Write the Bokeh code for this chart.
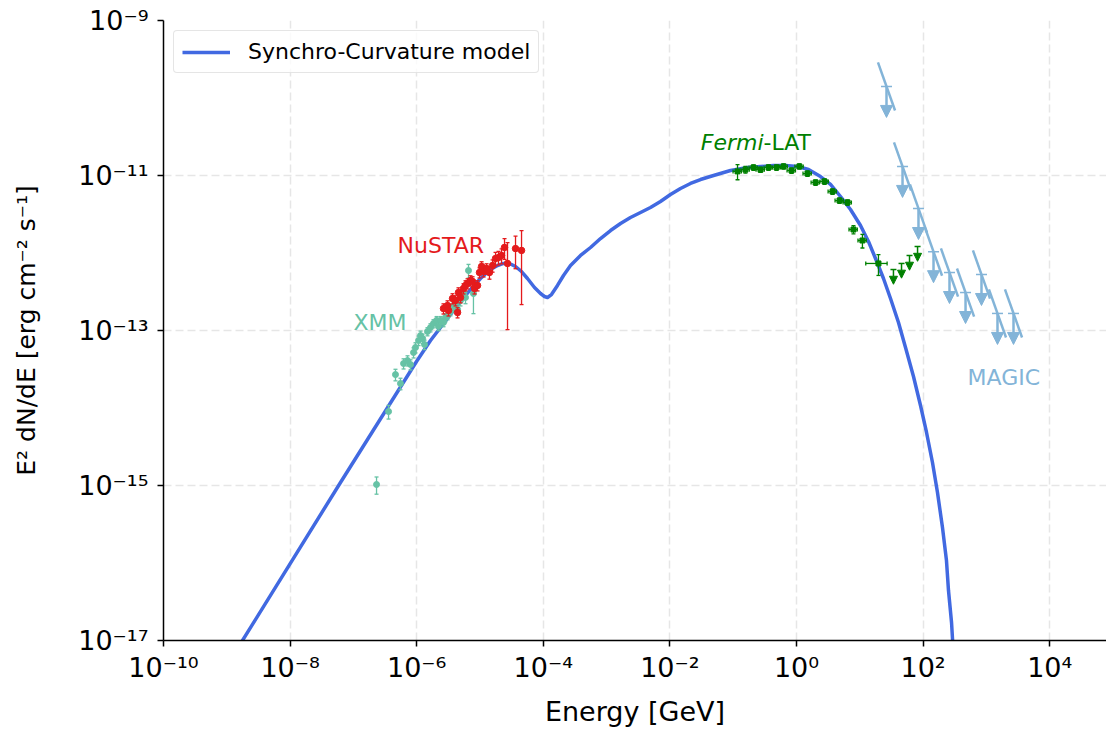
import math
from bokeh.plotting import figure
from bokeh.models import (Range1d, FixedTicker, Label, Arrow, NormalHead, ColumnDataSource)
from bokeh.embed import file_html
from bokeh.resources import INLINE

FONT = "DejaVu Sans"

# ---------------- data ----------------
# Synchro-curvature model, traced (log10 E [GeV], log10 E^2 dN/dE)
model_logE = [-8.942, -8.752, -7.204, -6.003, -5.782, -5.624, -5.466, -5.308, -5.150, -4.992,
              -4.834, -4.723, -4.629, -4.534, -4.439, -4.344, -4.250, -4.139, -4.044, -3.981,
              -3.934, -3.871, -3.776, -3.681, -3.570, -3.412, -3.254, -3.096, -2.938, -2.780,
              -2.623, -2.464, -2.307, -2.149, -1.991, -1.833, -1.675, -1.517, -1.311, -1.043,
              -0.774, -0.569, -0.363, -0.174, 0.016, 0.190, 0.379, 0.537, 0.695, 0.853,
              1.011, 1.137, 1.248, 1.374, 1.485, 1.611, 1.722, 1.848, 1.959, 2.054,
              2.148, 2.227, 2.306, 2.369, 2.401, 2.449, 2.480]
model_logF = [-17.245, -17.000, -14.961, -13.400, -13.129, -12.961, -12.794, -12.626, -12.471, -12.329,
              -12.213, -12.161, -12.135, -12.135, -12.174, -12.239, -12.329, -12.445, -12.523, -12.561,
              -12.574, -12.536, -12.419, -12.290, -12.161, -12.032, -11.929, -11.813, -11.710, -11.619,
              -11.542, -11.477, -11.413, -11.335, -11.245, -11.168, -11.103, -11.052, -11.000, -10.935,
              -10.897, -10.884, -10.871, -10.871, -10.884, -10.923, -11.013, -11.116, -11.271, -11.439,
              -11.645, -11.852, -12.071, -12.329, -12.587, -12.897, -13.219, -13.594, -13.968, -14.316,
              -14.703, -15.090, -15.542, -15.968, -16.355, -16.768, -17.194]

xmm_E = [2.32e-7, 3.59e-7, 4.62e-7, 5.54e-7, 6.20e-7, 7.16e-7, 7.98e-7, 8.91e-7, 9.57e-7, 1.07e-6,
         1.15e-6, 1.24e-6, 1.33e-6, 1.48e-6, 1.65e-6, 1.84e-6, 2.06e-6, 2.21e-6, 2.38e-6, 2.65e-6,
         2.85e-6, 3.07e-6, 3.42e-6, 3.81e-6, 4.10e-6, 4.42e-6, 4.92e-6, 5.48e-6, 5.90e-6, 6.58e-6,
         7.88e-6]
xmm_F = [1.03e-15, 9.0e-15, 2.70e-14, 2.07e-14, 3.75e-14, 4.10e-14, 3.64e-14, 5.20e-14, 6.04e-14,
         7.43e-14, 8.61e-14, 7.88e-14, 6.59e-14, 9.70e-14, 1.09e-13, 1.23e-13, 1.35e-13, 1.13e-13,
         1.35e-13, 1.27e-13, 1.47e-13, 1.56e-13, 1.76e-13, 2.04e-13, 2.30e-13, 1.87e-13, 2.44e-13,
         3.00e-13, 2.67e-13, 5.94e-13, 3.00e-13]
xmm_rel_err = [0.25, 0.2, 0.17, 0.17, 0.15, 0.15, 0.15, 0.15, 0.15, 0.14, 0.14, 0.14, 0.14, 0.12,
               0.12, 0.12, 0.12, 0.12, 0.12, 0.12, 0.12, 0.12, 0.12, 0.12, 0.14, 0.15, 0.15, 0.17,
               0.17, 0.2, 0.45]

nustar_E = [2.65e-6, 3.07e-6, 3.18e-6, 3.68e-6, 4.10e-6, 4.42e-6, 4.57e-6, 4.92e-6, 5.48e-6, 5.90e-6,
            6.35e-6, 7.08e-6, 7.62e-6, 8.19e-6, 9.14e-6, 9.82e-6, 1.06e-5, 1.14e-5, 1.27e-5, 1.41e-5,
            1.58e-5, 1.76e-5, 1.96e-5, 2.19e-5, 2.44e-5, 2.72e-5, 3.64e-5, 4.53e-5]
nustar_F = [1.92e-13, 2.10e-13, 1.81e-13, 2.59e-13, 2.44e-13, 1.71e-13, 3.09e-13, 2.67e-13, 3.48e-13,
            3.81e-13, 4.04e-13, 4.42e-13, 4.29e-13, 3.48e-13, 3.81e-13, 5.60e-13, 6.70e-13, 5.77e-13,
            6.31e-13, 5.60e-13, 6.90e-13, 8.49e-13, 8.75e-13, 9.29e-13, 1.18e-12, 7.33e-13, 1.14e-12,
            1.08e-12]
nustar_rel_err = [0.15, 0.15, 0.15, 0.15, 0.15, 0.15, 0.15, 0.15, 0.15, 0.15, 0.15, 0.15, 0.15,
                  0.15, 0.15, 0.15, 0.15, 0.15, 0.15, 0.18, 0.18, 0.2, 0.2, 0.22, 0.3, 0.86, 0.45,
                  0.8]

fermi_E = [0.117, 0.156, 0.209, 0.270, 0.361, 0.483, 0.624, 0.834, 1.11, 1.49, 2.00, 2.77, 3.71,
           4.78, 6.40, 7.94, 11.0, 19.7]
fermi_F = [1.13e-11, 1.19e-11, 1.27e-11, 1.19e-11, 1.27e-11, 1.27e-11, 1.31e-11, 1.16e-11, 1.31e-11,
           1.06e-11, 8.13e-12, 8.38e-12, 6.22e-12, 4.75e-12, 4.49e-12, 2.01e-12, 1.45e-12, 7.33e-13]
fermi_rel_yerr = [0.22, 0.1, 0.08, 0.08, 0.08, 0.08, 0.08, 0.08, 0.08, 0.08, 0.08, 0.08, 0.08,
                  0.08, 0.08, 0.12, 0.2, 0.3]
fermi_rel_xerr = [0.15, 0.15, 0.15, 0.15, 0.15, 0.15, 0.15, 0.15, 0.15, 0.15, 0.15, 0.15, 0.15,
                  0.15, 0.15, 0.15, 0.15, 0.37]
fermi_ul_E = [34.0, 45.6, 61.0, 81.7]
fermi_ul_F = [6.12e-13, 7.33e-13, 9.29e-13, 1.21e-12]

magic_ul_E = [26.4, 47.3, 84.5, 146, 261, 468, 836, 1496, 2679]
magic_ul_F = [1.41e-10, 1.31e-11, 3.75e-12, 1.04e-12, 5.60e-13, 3.09e-13, 5.28e-13, 1.66e-13, 1.66e-13]
magic_index = -2.3           # slope of each UL bowtie in E^2 dN/dE
magic_bin_halfwidth = 0.135  # decades

x_ticks = [1e-10, 1e-8, 1e-6, 1e-4, 1e-2, 1e0, 1e2, 1e4]
x_tick_labels = ["10⁻¹⁰", "10⁻⁸", "10⁻⁶", "10⁻⁴", "10⁻²", "10⁰", "10²", "10⁴"]
y_ticks = [1e-17, 1e-15, 1e-13, 1e-11, 1e-9]
y_tick_labels = ["10⁻¹⁷", "10⁻¹⁵", "10⁻¹³", "10⁻¹¹", "10⁻⁹"]

# ---------------- colours ----------------
C_MODEL = "#4169e1"
C_XMM = "#66c2a5"
C_NU = "#e41a1c"
C_FERMI = "#008000"
C_MAGIC = "#83b4d8"

W, H = 1106, 732
p = figure(width=W, height=H, x_axis_type="log", y_axis_type="log",
           x_range=Range1d(1e-10, 10 ** 4.897), y_range=Range1d(1e-17, 1e-9),
           output_backend="svg", toolbar_location=None,
           min_border_left=163, min_border_right=0, min_border_top=20, min_border_bottom=92)
p.outline_line_color = None

for ax, grid, ticks, labels in ((p.xaxis[0], p.xgrid[0], x_ticks, x_tick_labels),
                                (p.yaxis[0], p.ygrid[0], y_ticks, y_tick_labels)):
    t = FixedTicker(ticks=ticks, minor_ticks=[])
    ax.ticker = t
    grid.ticker = t
    ax.major_label_overrides = {k: v for k, v in zip(ticks, labels)}
    ax.major_label_text_font = FONT
    ax.major_label_text_font_size = "27px"
    ax.major_label_text_color = "black"
    ax.axis_line_width = 1.5
    ax.axis_line_color = "black"
    ax.major_tick_line_width = 1.5
    ax.major_tick_out = 6
    ax.major_tick_in = 0
    ax.minor_tick_out = 0
    ax.minor_tick_in = 0
    ax.axis_label_text_font = FONT
    ax.axis_label_text_font_style = "normal"
    ax.axis_label_text_color = "black"
    grid.grid_line_color = "#e6e6e6"
    grid.grid_line_width = 1.5
    grid.grid_line_dash = "8 4"

p.xaxis.major_label_standoff = 5
p.yaxis.major_label_standoff = 9
p.xaxis.axis_label = "Energy [GeV]"
p.xaxis.axis_label_text_font_size = "27px"
p.xaxis.axis_label_standoff = 10
p.yaxis.axis_label = "E² dN/dE [erg cm⁻² s⁻¹]"
p.yaxis.axis_label_text_font_size = "25px"
p.yaxis.axis_label_standoff = 34

# ---- model ----
p.line([10 ** v for v in model_logE], [10 ** v for v in model_logF], line_color=C_MODEL,
       line_width=3.5, line_join="round", legend_label="Synchro-Curvature model")


def yerrbars(E, F, rel, color, cap, lw):
    lo = [f * (1 - r) for f, r in zip(F, rel)]
    hi = [f * (1 + r) for f, r in zip(F, rel)]
    p.segment(x0=E, y0=lo, x1=E, y1=hi, line_color=color, line_width=lw)
    p.scatter(x=list(E) + list(E), y=lo + hi, marker="dash", size=cap,
              line_color=color, line_width=lw)


# ---- XMM ----
yerrbars(xmm_E, xmm_F, xmm_rel_err, C_XMM, 4, 1.3)
p.scatter(xmm_E, xmm_F, marker="circle", size=6, fill_color=C_XMM, line_color=C_XMM)

# ---- NuSTAR ----
yerrbars(nustar_E, nustar_F, nustar_rel_err, C_NU, 4, 1.3)
p.scatter(nustar_E, nustar_F, marker="circle", size=6.5, fill_color=C_NU, line_color=C_NU)

# ---- Fermi-LAT ----
yerrbars(fermi_E, fermi_F, fermi_rel_yerr, C_FERMI, 4, 1.3)
xlo = [e * (1 - r) for e, r in zip(fermi_E, fermi_rel_xerr)]
xhi = [e * (1 + r) for e, r in zip(fermi_E, fermi_rel_xerr)]
p.segment(x0=xlo, y0=fermi_F, x1=xhi, y1=fermi_F, line_color=C_FERMI, line_width=1.3)
p.scatter(x=xlo + xhi, y=fermi_F + fermi_F, marker="dash", size=4, angle=math.pi / 2,
          line_color=C_FERMI, line_width=1.3)
p.scatter(fermi_E, fermi_F, marker="square", size=5, fill_color=C_FERMI, line_color=C_FERMI)

fermi_tip = [f * 10 ** -0.19 for f in fermi_ul_F]
p.scatter(fermi_ul_E, fermi_ul_F, marker="dash", size=6, line_color=C_FERMI, line_width=1.5)
p.add_layout(Arrow(end=NormalHead(size=8, fill_color=C_FERMI, line_color=C_FERMI),
                   source=ColumnDataSource(dict(x0=fermi_ul_E, y0=fermi_ul_F,
                                                x1=fermi_ul_E, y1=fermi_tip)),
                   x_start="x0", y_start="y0", x_end="x1", y_end="y1",
                   line_color=C_FERMI, line_width=1.5))

# ---- MAGIC ----
k = 10 ** magic_bin_halfwidth
m_x0 = [e / k for e in magic_ul_E]
m_x1 = [e * k for e in magic_ul_E]
m_y0 = [f * k ** (-magic_index) for f in magic_ul_F]
m_y1 = [f * k ** magic_index for f in magic_ul_F]
p.segment(x0=m_x0, y0=m_y0, x1=m_x1, y1=m_y1, line_color=C_MAGIC, line_width=2.5)
p.scatter(magic_ul_E, magic_ul_F, marker="dash", size=11, line_color=C_MAGIC, line_width=1.5)
magic_tip = [f * 10 ** -0.4 for f in magic_ul_F]
p.add_layout(Arrow(end=NormalHead(size=12, fill_color=C_MAGIC, line_color=C_MAGIC),
                   source=ColumnDataSource(dict(x0=magic_ul_E, y0=magic_ul_F,
                                                x1=magic_ul_E, y1=magic_tip)),
                   x_start="x0", y_start="y0", x_end="x1", y_end="y1",
                   line_color=C_MAGIC, line_width=2.5))

# ---- text labels ----
TXT = dict(text_font=FONT, text_font_size="22px", text_baseline="middle")
p.add_layout(Label(x=1.0e-7, y=1.27e-13, text="XMM", text_color=C_XMM, text_align="left", **TXT))
p.add_layout(Label(x=4.98e-7, y=1.25e-12, text="NuSTAR", text_color=C_NU, text_align="left", **TXT))
p.add_layout(Label(x=0.301, y=2.67e-11, text="Fermi", text_color=C_FERMI, text_align="right",
                   text_font_style="italic", **TXT))
p.add_layout(Label(x=0.301, y=2.67e-11, text="-LAT", text_color=C_FERMI, text_align="left", **TXT))
p.add_layout(Label(x=504, y=2.48e-14, text="MAGIC", text_color=C_MAGIC, text_align="left", **TXT))

# ---- legend ----
leg = p.legend[0]
leg.location = (10, 567)
leg.label_text_font = FONT
leg.label_text_font_size = "22px"
leg.label_text_color = "black"
leg.border_line_color = "#cccccc"
leg.border_line_width = 1.5
leg.background_fill_alpha = 0.8
leg.padding = 8
leg.margin = 0
leg.glyph_width = 48
leg.label_standoff = 18
if "border_radius" in leg.properties():
    leg.border_radius = 4

open("out.html", "w").write(file_html(p, INLINE))
